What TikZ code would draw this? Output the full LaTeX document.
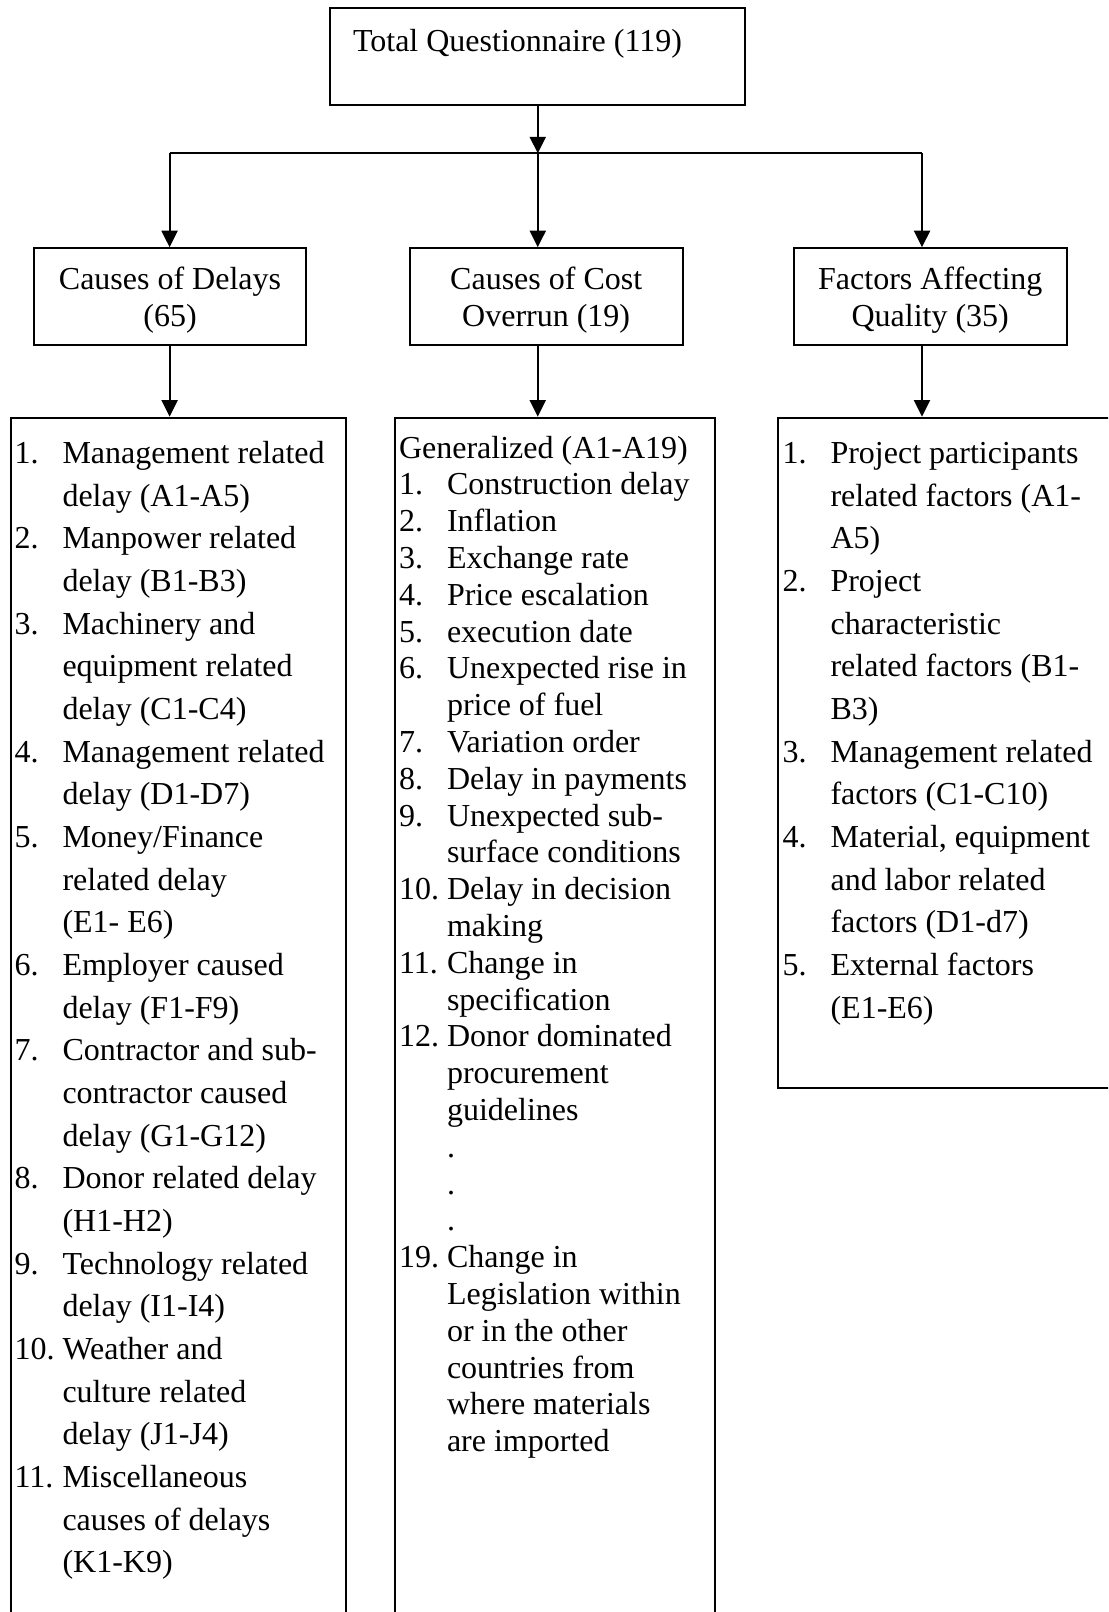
\documentclass[tikz,border=0pt]{standalone}
\usepackage{fontspec}
\setmainfont{Liberation Serif}
\usepackage{array}
\usetikzlibrary{positioning, arrows.meta}

\tikzset{
  box/.style={draw, line width=0.75pt, inner sep=0pt},
  headbox/.style={box, minimum width=102.3pt, minimum height=36.3pt, align=center, text height=25pt, text depth=2.6pt},
  listtext/.style={inner sep=0pt, anchor=base west},
  link/.style={line width=0.75pt, -{Triangle[length=6.2pt, width=6pt]}},
}

\begin{document}
\begin{tikzpicture}[x=0.375pt, y=-0.375pt, font=\fontsize{12}{13.8}\selectfont]
  \useasboundingbox (0,0) rectangle (1108,1612);
  \clip (0,0) rectangle (1108,1612);

  % top level
  \node[box, minimum width=155.8pt, minimum height=36.3pt] (total) at (537.75,56.65) {};
  \node[listtext] (totaltext) at (352.5,52) {Total Questionnaire (119)};

  % second level
  \node[headbox] (delays) at (170,296.65) {Causes of Delays\\(65)};
  \node[headbox] (cost) at (546.2,296.65) {Causes of Cost\\Overrun (19)};
  \node[headbox] (quality) at (930.25,296.65) {Factors Affecting\\Quality (35)};

  % third level (boxes run past the page edge)
  \node[box, anchor=north west, minimum width=125.7pt, minimum height=470pt] (dlist) at (9.9,416.7) {};
  \node[box, anchor=north west, minimum width=120pt, minimum height=470pt] (clist) at (394,416.7) {};
  \node[box, anchor=north west, minimum width=136pt, minimum height=251.4pt] (qlist) at (777.3,416.7) {};

  \node[listtext, font=\fontsize{12}{16}\selectfont] (dtext) at (14,463.5) {%
    \begin{tabular}[t]{@{}p{18pt}@{}l@{}}
      1. & Management related\\
         & delay (A1-A5)\\
      2. & Manpower related\\
         & delay (B1-B3)\\
      3. & Machinery and\\
         & equipment related\\
         & delay (C1-C4)\\
      4. & Management related\\
         & delay (D1-D7)\\
      5. & Money/Finance\\
         & related delay\\
         & (E1- E6)\\
      6. & Employer caused\\
         & delay (F1-F9)\\
      7. & Contractor and sub-\\
         & contractor caused\\
         & delay (G1-G12)\\
      8. & Donor related delay\\
         & (H1-H2)\\
      9. & Technology related\\
         & delay (I1-I4)\\
      10. & Weather and\\
          & culture related\\
          & delay (J1-J4)\\
      11. & Miscellaneous\\
          & causes of delays\\
          & (K1-K9)
    \end{tabular}};

  \node[listtext] (ctext) at (398.5,458) {%
    \begin{tabular}[t]{@{}p{18pt}@{}l@{}}
      \multicolumn{2}{@{}l@{}}{Generalized (A1-A19)}\\
      1. & Construction delay\\
      2. & Inflation\\
      3. & Exchange rate\\
      4. & Price escalation\\
      5. & execution date\\
      6. & Unexpected rise in\\
         & price of fuel\\
      7. & Variation order\\
      8. & Delay in payments\\
      9. & Unexpected sub-\\
         & surface conditions\\
      10. & Delay in decision\\
          & making\\
      11. & Change in\\
          & specification\\
      12. & Donor dominated\\
          & procurement\\
          & guidelines\\
          & .\\
          & .\\
          & .\\
      19. & Change in\\
          & Legislation within\\
          & or in the other\\
          & countries from\\
          & where materials\\
          & are imported
    \end{tabular}};

  \node[listtext, font=\fontsize{12}{16}\selectfont] (qtext) at (782,463.5) {%
    \begin{tabular}[t]{@{}p{18pt}@{}l@{}}
      1. & Project participants\\
         & related factors (A1-\\
         & A5)\\
      2. & Project\\
         & characteristic\\
         & related factors (B1-\\
         & B3)\\
      3. & Management related\\
         & factors (C1-C10)\\
      4. & Material, equipment\\
         & and labor related\\
         & factors (D1-d7)\\
      5. & External factors\\
         & (E1-E6)
    \end{tabular}};

  % connectors
  \coordinate (colL) at (169.6,153.3);
  \coordinate (colM) at (537.75,153.3);
  \coordinate (colR) at (922,153.3);
  \draw[link] (total.south) -- (colM);
  \draw[line width=0.75pt] (colL) -- (colR);
  \draw[link] (colL) -- (colL |- delays.north);
  \draw[link] (colM) -- (colM |- cost.north);
  \draw[link] (colR) -- (colR |- quality.north);
  \draw[link] (colL |- delays.south) -- (colL |- dlist.north);
  \draw[link] (colM |- cost.south) -- (colM |- clist.north);
  \draw[link] (colR |- quality.south) -- (colR |- qlist.north);
\end{tikzpicture}
\end{document}
